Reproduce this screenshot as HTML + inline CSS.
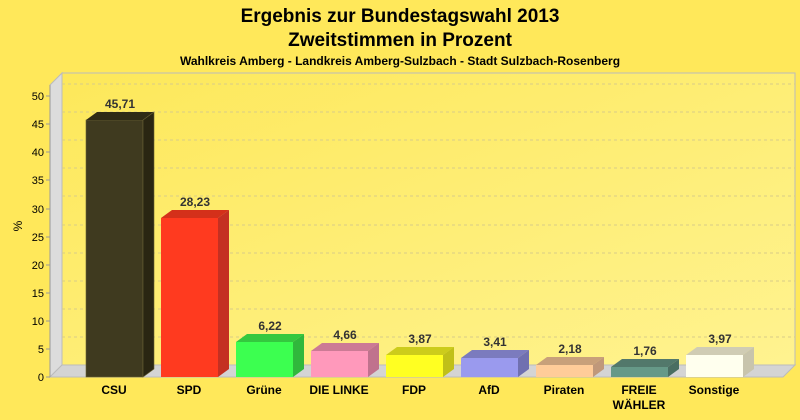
<!DOCTYPE html><html><head><style>body{margin:0}svg{display:block;font-family:"Liberation Sans",Arial,sans-serif}</style></head><body>
<svg width="800" height="420" xmlns="http://www.w3.org/2000/svg">
<defs><linearGradient id="bg" x1="0" y1="0" x2="1" y2="1"><stop offset="0" stop-color="#fde85a"/><stop offset="1" stop-color="#fff390"/></linearGradient></defs>
<rect width="800" height="420" fill="#ffe85a"/>
<text x="400" y="22" font-size="19" font-weight="bold" text-anchor="middle">Ergebnis zur Bundestagswahl 2013</text>
<text x="400" y="46" font-size="19" font-weight="bold" text-anchor="middle">Zweitstimmen in Prozent</text>
<text x="400" y="65" font-size="12" font-weight="bold" text-anchor="middle">Wahlkreis Amberg - Landkreis Amberg-Sulzbach - Stadt Sulzbach-Rosenberg</text>
<rect x="62" y="73" width="733" height="292" fill="url(#bg)" stroke="#bbb" stroke-width="1"/>
<polygon points="50,85 62,73 62,365 50,377" fill="#dcdcdc" stroke="#bbb"/>
<polygon points="50,377 62,365 795,365 783,377" fill="#d4d4d4" stroke="#bbb"/>
<g stroke="#d8cc88" stroke-dasharray="3,3" stroke-width="1">
<line x1="62" y1="337" x2="795" y2="337"/><line x1="62" y1="309" x2="795" y2="309"/><line x1="62" y1="281" x2="795" y2="281"/><line x1="62" y1="253" x2="795" y2="253"/><line x1="62" y1="225" x2="795" y2="225"/><line x1="62" y1="196" x2="795" y2="196"/><line x1="62" y1="168" x2="795" y2="168"/><line x1="62" y1="140" x2="795" y2="140"/><line x1="62" y1="112" x2="795" y2="112"/><line x1="62" y1="84" x2="795" y2="84"/>
</g>
<line x1="50" y1="85" x2="50" y2="377" stroke="#999"/>
<g font-size="11" text-anchor="end">
<text x="44" y="381">0</text><text x="44" y="353">5</text><text x="44" y="325">10</text><text x="44" y="297">15</text><text x="44" y="269">20</text><text x="44" y="241">25</text><text x="44" y="213">30</text><text x="44" y="184">35</text><text x="44" y="156">40</text><text x="44" y="128">45</text><text x="44" y="100">50</text>
</g>
<g stroke="#999"><line x1="46" y1="377" x2="50" y2="377"/><line x1="46" y1="349" x2="50" y2="349"/><line x1="46" y1="321" x2="50" y2="321"/><line x1="46" y1="293" x2="50" y2="293"/><line x1="46" y1="265" x2="50" y2="265"/><line x1="46" y1="237" x2="50" y2="237"/><line x1="46" y1="209" x2="50" y2="209"/><line x1="46" y1="180" x2="50" y2="180"/><line x1="46" y1="152" x2="50" y2="152"/><line x1="46" y1="124" x2="50" y2="124"/><line x1="46" y1="96" x2="50" y2="96"/></g>
<text x="22" y="226" font-size="12" text-anchor="middle" transform="rotate(-90 22 226)">%</text>
<g stroke-width="0.6">
<rect x="86" y="120" width="57" height="257" fill="#3f3a1f" stroke="#6a6235"/><polygon points="86,120 97,112 154,112 143,120" fill="#2f2b16"/><polygon points="143,120 154,112 154,369 143,377" fill="#2a2612" stroke="#6a6235"/>
<rect x="161" y="218" width="57" height="159" fill="#ff3a1f"/><polygon points="161,218 172,210 229,210 218,218" fill="#d4301a"/><polygon points="218,218 229,210 229,369 218,377" fill="#c43022"/>
<rect x="236" y="342" width="57" height="35" fill="#3cff50"/><polygon points="236,342 247,334 304,334 293,342" fill="#34c83f"/><polygon points="293,342 304,334 304,369 293,377" fill="#30b83c"/>
<rect x="311" y="351" width="57" height="26" fill="#ff99bb"/><polygon points="311,351 322,343 379,343 368,351" fill="#cc7a95"/><polygon points="368,351 379,343 379,369 368,377" fill="#c0728d"/>
<rect x="386" y="355" width="57" height="22" fill="#ffff22"/><polygon points="386,355 397,347 454,347 443,355" fill="#cccc1b"/><polygon points="443,355 454,347 454,369 443,377" fill="#c0c018"/>
<rect x="461" y="358" width="57" height="19" fill="#9a9aee"/><polygon points="461,358 472,350 529,350 518,358" fill="#7b7bbe"/><polygon points="518,358 529,350 529,369 518,377" fill="#7070b0"/>
<rect x="536" y="365" width="57" height="12" fill="#ffcc99"/><polygon points="536,365 547,357 604,357 593,365" fill="#c8a07a"/><polygon points="593,365 604,357 604,369 593,377" fill="#c0987a"/>
<rect x="611" y="367" width="57" height="10" fill="#669988"/><polygon points="611,367 622,359 679,359 668,367" fill="#52786b"/><polygon points="668,367 679,359 679,369 668,377" fill="#4a6e62"/>
<rect x="686" y="355" width="57" height="22" fill="#ffffee"/><polygon points="686,355 697,347 754,347 743,355" fill="#d0ccb4"/><polygon points="743,355 754,347 754,369 743,377" fill="#c8c4ac"/>
</g>
<g font-size="12" font-weight="bold" fill="#333" text-anchor="middle">
<text x="120" y="108">45,71</text><text x="195" y="206">28,23</text><text x="270" y="330">6,22</text><text x="345" y="339">4,66</text><text x="420" y="343">3,87</text><text x="495" y="346">3,41</text><text x="570" y="353">2,18</text><text x="645" y="355">1,76</text><text x="720" y="343">3,97</text>
</g>
<g font-size="12" font-weight="bold" text-anchor="middle">
<text x="114" y="394">CSU</text><text x="189" y="394">SPD</text><text x="264" y="394">Grüne</text><text x="339" y="394">DIE LINKE</text><text x="414" y="394">FDP</text><text x="489" y="394">AfD</text><text x="564" y="394">Piraten</text><text x="639" y="394">FREIE</text><text x="639" y="409">WÄHLER</text><text x="714" y="394">Sonstige</text>
</g>
</svg></body></html>
